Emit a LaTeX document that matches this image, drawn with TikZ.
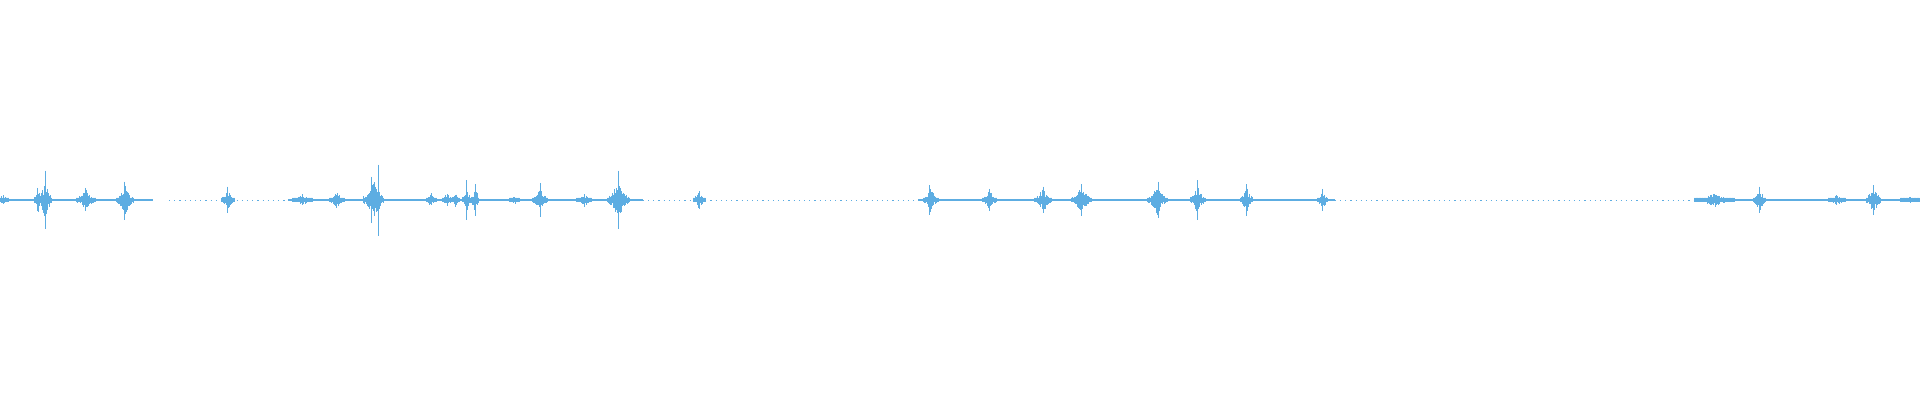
\documentclass[tikz,border=0pt]{standalone}
\definecolor{wave}{HTML}{5DADE2}
\begin{document}
\begin{tikzpicture}[x=1.2245pt,y=1.2245pt,wv/.style={draw=wave,line width=0.75pt},sp/.style={draw=wave,line width=1pt},base/.style={draw=wave,line width=1.1pt},dots/.style={draw=wave,line width=0.9pt,dash pattern=on 1.2pt off 4pt}]
\useasboundingbox (0,-163.35) rectangle (1568,163.35);
\pgfmathsetseed{7}
% baseline
\draw[base] (0,0) -- (125,0);
\draw[dots] (138,0) -- (235,0);
\draw[base] (235,0) -- (525,0);
\draw[dots] (525,0) -- (750,0);
\draw[base] (750,0) -- (1090,0);
\draw[dots] (1090,0) -- (1385,0);
\draw[base] (1385,0) -- (1568,0);
% bursts: center/amp/halfwidth
\foreach \c/\a/\w in {2/5/5,31/10/3,37/18/5,70/10/8,102/13/7,186/10/5,247/5/8,275/8/6,305/20/8,352/6/4,365/7/4,372/8/3,381/12/3,388/11/3,420/4/4,441/11/6,477/6/6,505/17/9,571/8/5,760/10/6,808/9/6,852/11/7,883/12/8,945/13/8,978/12/6,1018/12/5,1080/8/4,1400/6/16,1437/10/5,1500/5/7,1530/12/6,1560/3/8}{
  \pgfmathtruncatemacro{\n}{4*\w}
  \foreach \i in {0,...,\n}{
    \pgfmathsetmacro{\dx}{0.5*\i-\w}
    \pgfmathsetmacro{\e}{exp(-abs(\dx)/(0.45*\w+0.8))}
    \pgfmathsetmacro{\u}{max(2,\a*\e*(0.35+0.65*rnd))}
    \pgfmathsetmacro{\d}{max(2,\a*\e*(0.35+0.65*rnd))}
    \draw[wv] (\c+\dx,\u) -- (\c+\dx,-\d);
  }
}
% spikes: x/up/down
\foreach \x/\u/\d in {31/10/9,37/24/24,70/10/9,102/15/16,186/11/11,303/19/19,309/29/29,381/16/16,388/13/13,441/14/14,505/24/24,571/7/7,759/12/12,808/9/9,852/11/11,883/13/13,946/15/15,978/16/16,1018/13/13,1080/9/9,1437/11/11,1530/12/12}{
  \draw[sp] (\x,\u) -- (\x,-\d);
}
\end{tikzpicture}
\end{document}
